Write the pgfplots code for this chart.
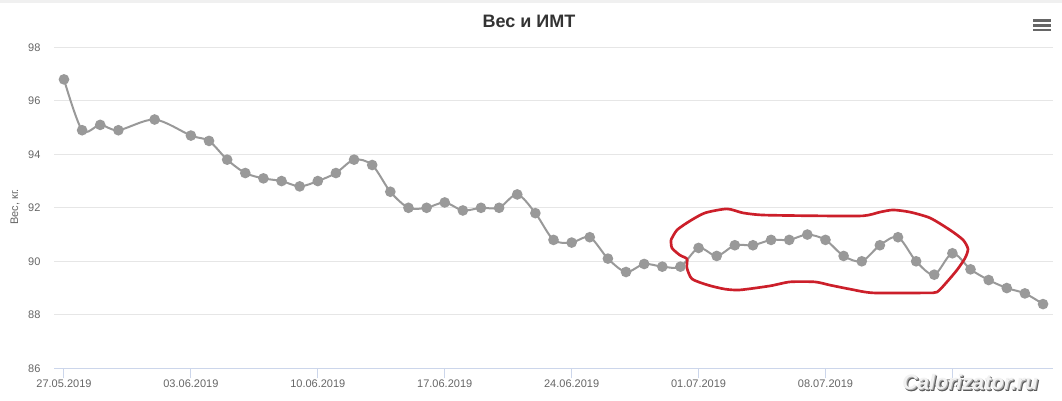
\documentclass[border=0pt]{standalone}
\usepackage{fontspec}
\setmainfont{Liberation Sans}
\usepackage{pgfplots}
\pgfplotsset{compat=1.18}
\definecolor{gridcol}{HTML}{E6E6E6}
\definecolor{axiscol}{HTML}{CCD6EB}
\definecolor{labelcol}{HTML}{666666}
\definecolor{titlecol}{HTML}{333333}
\definecolor{linecol}{HTML}{999999}
\definecolor{redcol}{HTML}{CC1F2A}
\definecolor{topband}{HTML}{F0F0F0}
\begin{document}
\begin{tikzpicture}[x=0.75pt,y=0.75pt]
\fill[white] (0,0) rectangle (1062,400);
\fill[topband] (0,397.3) rectangle (1062,400);
\useasboundingbox (0,0) rectangle (1062,400);
\begin{axis}[
  at={(40.5pt,23.775pt)}, anchor=south west,
  scale only axis, width=749.25pt, height=240.75pt,
  xmin=-0.55, xmax=54.55, ymin=86, ymax=98,
  ytick={86,88,...,98},
  xtick={0,7,14,21,28,35,42,49},
  xticklabels={27.05.2019,03.06.2019,10.06.2019,17.06.2019,24.06.2019,01.07.2019,08.07.2019,15.07.2019},
  axis lines=left,
  axis line style={-},
  y axis line style={draw=none},
  x axis line style={draw=axiscol, line width=0.75pt},
  ymajorgrids, grid style={draw=gridcol, line width=0.75pt},
  tick align=outside,
  major tick length=7.5pt,
  xtick style={draw=axiscol, line width=0.75pt},
  ytick style={draw=none},
  tick label style={font=\fontsize{8.25}{10}\selectfont, text=labelcol},
  xticklabel style={inner sep=0pt, yshift=-1pt},
  yticklabel style={inner sep=0pt, xshift=-2.5pt},
  /pgf/number format/assume math mode=true,
  clip=false,
]
\addplot[linecol, line width=1.5pt, smooth, tension=0.5, mark=*,
  mark size=3.2pt, mark options={draw=none, fill=linecol}] coordinates {
(0,96.8) (1,94.9) (2,95.1) (3,94.9) (5,95.3) (7,94.7) (8,94.5) (9,93.8)
(10,93.3) (11,93.1) (12,93.0) (13,92.8) (14,93.0) (15,93.3) (16,93.8)
(17,93.6) (18,92.6) (19,92.0) (20,92.0) (21,92.2) (22,91.9) (23,92.0)
(24,92.0) (25,92.5) (26,91.8) (27,90.8) (28,90.7) (29,90.9) (30,90.1)
(31,89.6) (32,89.9) (33,89.8) (34,89.8) (35,90.5) (36,90.2) (37,90.6)
(38,90.6) (39,90.8) (40,90.8) (41,91.0) (42,90.8) (43,90.2) (44,90.0)
(45,90.6) (46,90.9) (47,90.0) (48,89.5) (49,90.3) (50,89.7) (51,89.3)
(52,89.0) (53,88.8) (54,88.4)
};
\addplot[redcol, line width=2pt, smooth, tension=0.4, no marks] coordinates {
(33.48,90.80) (33.81,91.17) (34.53,91.51) (35.36,91.81) (36.57,91.96)
(37.45,91.81) (38.56,91.73) (41.53,91.70) (44.07,91.70) (45.01,91.84)
(45.73,91.92) (46.66,91.84) (47.77,91.62) (48.87,91.17) (49.59,90.80)
(49.86,90.46) (49.70,90.12) (49.26,89.68) (48.70,89.23) (48.15,88.85)
(47.49,88.82) (44.62,88.82) (43.35,88.96) (42.25,89.11) (41.42,89.23)
(40.04,89.23) (38.94,89.08) (37.29,88.93) (36.46,88.96) (35.52,89.11)
(34.64,89.34) (34.36,89.75) (34.36,90.09) (33.97,90.23) (33.53,90.50)
(33.48,90.80)
};
\end{axis}
\node[font=\bfseries\fontsize{13.5}{16}\selectfont, text=titlecol] at (529,379) {Вес и ИМТ};
\node[rotate=90, font=\fontsize{8.25}{10}\selectfont, text=labelcol] at (15,193) {Вес, кг.};
\draw[labelcol, line width=2pt] (1033,379.7) -- (1051,379.7);
\draw[labelcol, line width=2pt] (1033,374.8) -- (1051,374.8);
\draw[labelcol, line width=2pt] (1033,370) -- (1051,370);
\foreach \dx/\dy/\c in {2/-2/gray!80!black, 1.5/-1.5/gray!70!black, 1/-1/gray!60}
  \node[font=\bfseries\itshape\fontsize{15.75}{18}\selectfont, text=\c] at (970+\dx,18+\dy) {Calorizator.ru};
\node[font=\bfseries\itshape\fontsize{15.75}{18}\selectfont, text=white!90!gray] at (970,18) {Calorizator.ru};
\end{tikzpicture}
\end{document}
